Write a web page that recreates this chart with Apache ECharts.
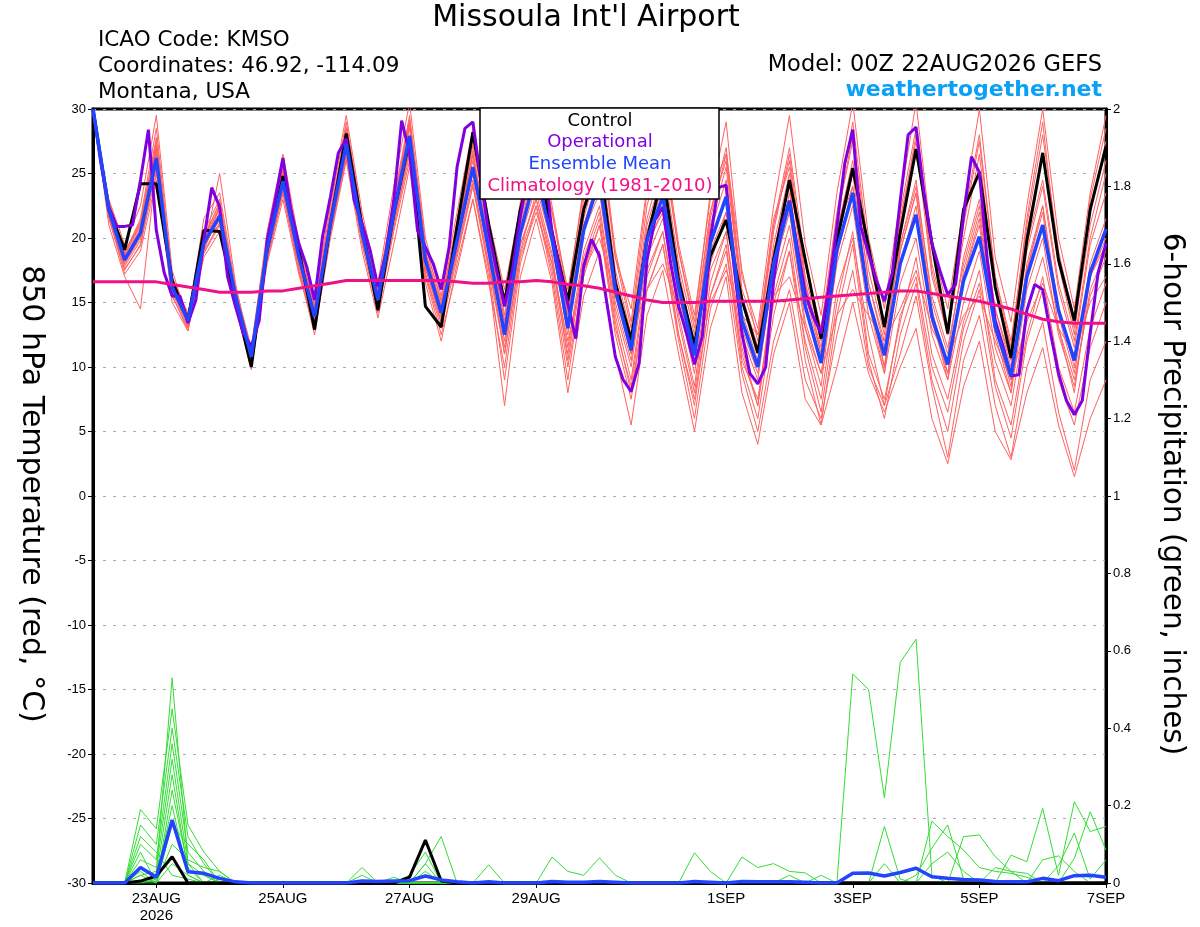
<!DOCTYPE html>
<html>
<head>
<meta charset="utf-8">
<title>Missoula Int'l Airport</title>
<script src="https://cdn.jsdelivr.net/npm/echarts@6/dist/echarts.min.js"></script>
<style>
	body{margin:0;background:#fff;}
	#main{width:1200px;height:927px;}
</style>
</head>
<body>
<div id="main"></div>
<script>
//hours after 00Z 22AUG2026 where the date labels sit
var tickHours = [24, 72, 120, 168, 240, 288, 336, 384];
var tickLabels = ['23AUG\n2026', '25AUG', '27AUG', '29AUG', '1SEP', '3SEP', '5SEP', '7SEP'];

//850 hPa temperature (C), 6-hourly from 00Z 22AUG
var tempControl = [30,22.2,19.1,24.2, 24.2,16.7,13.6,20.6, 20.5,15.2,10.0,19.1, 24.8,19.1,12.9,21.1, 28.1,20.9,14.4,21.9, 27.6,14.7,13.1,20.9, 28.2,21.0,15.0,22.2, 27.0,20.4,15.1,22.2, 26.0,16.5,12.1,19.9, 25.0,16.7,11.7,18.6, 21.4,15.2,11.1,18.3, 24.5,18.3,12.2,19.8, 25.4,19.3,13.1,20.4, 26.9,19.6,12.6,22.2, 25.1,16.2,10.7,19.8, 26.6,18.3,13.6,22.2, 27.1];
var tempMean = [30,22.2,18.3,20.4, 26.2,16.2,13.6,19.6, 21.7,15.5,10.8,19.1, 24.4,18.6,13.9,21.1, 27.3,20.4,15.2,21.9, 27.9,18.3,14.2,19.8, 25.5,19.1,12.5,20.4, 25.0,19.9,13.0,20.6, 24.5,16.0,11.3,19.9, 23.2,16.2,10.9,19.6, 23.2,13.6,10.0,18.0, 22.8,14.7,10.3,19.1, 23.5,15.2,10.9,18.0, 21.8,13.9,10.2,16.7, 20.1,13.1,9.3,17.0, 21.0,14.4,10.5,17.3, 20.7];
var tempClimo = [16.6,16.6,16.6,16.6, 16.6,16.4,16.2,16.0, 15.8,15.8,15.8,15.9, 15.9,16.1,16.3,16.5, 16.7,16.7,16.7,16.7, 16.7,16.7,16.7,16.6, 16.5,16.5,16.6,16.6, 16.7,16.6,16.4,16.3, 16.1,15.8,15.5,15.2, 15.0,15.0,15.0,15.1, 15.1,15.1,15.1,15.1, 15.2,15.3,15.4,15.5, 15.6,15.7,15.8,15.9, 15.9,15.7,15.5,15.3, 15.1,14.8,14.5,14.1, 13.7,13.5,13.4,13.4, 13.4];
//operational run is 3-hourly
var tempOper = [30,25.8,22.4,20.9,20.9,21.0,24.5,28.4, 20.6,17.3,15.5,15.5,13.4,15.2,19.8,23.9, 22.4,17.0,14.7,12.6,11.6,13.6,19.8,22.9, 26.2,22.2,19.6,17.8,15.2,20.1,23.2,26.6, 27.7,22.9,21.1,19.1,16.2,18.8,22.9,29.1, 26.6,20.6,19.3,18.0,16.0,19.3,25.5,28.5, 29.0,24.5,20.4,17.5,14.7,17.5,21.7,25.0, 27.5,26.0,20.4,17.5,14.9,12.2,17.8,19.9, 18.6,14.7,10.8,9.0,8.1,10.3,18.3,21.4, 22.4,18.0,14.7,12.6,10.2,12.4,19.9,23.9, 24.1,17.8,12.6,9.5,8.7,10.0,16.7,20.9, 22.9,19.3,15.7,13.9,12.6,16.2,20.9,25.8, 28.4,20.9,18.8,16.7,15.1,17.3,22.9,28.0, 28.6,23.5,19.6,17.5,15.6,16.4,21.7,26.3, 25.1,18.3,13.6,11.6,9.3,9.4,14.4,16.4, 16.0,12.6,9.5,7.4,6.3,7.4,12.6,17.3, 19.6];
//ensemble members (thin red)
var tempMembers = [
	[30,22.5,18.8,21.5, 28.5,17.0,14.0,20.5, 23.0,16.0,11.0,20.0, 26.0,19.5,14.5,22.5, 29.0,21.5,16.0,23.0, 29.5,19.5,15.0,21.0, 28.0,21.0,14.0,22.0, 27.5,22.0,15.0,23.0, 28.0,18.5,13.0,22.5, 27.0,19.0,13.0,22.0, 27.0,16.0,12.5,21.0, 27.0,18.0,13.0,22.0, 29.0,19.0,13.5,21.0, 28.0,18.0,13.0,21.0, 27.5,17.0,12.0,21.0, 28.0,19.0,13.5,22.0, 27.5],
	[30,21.5,17.5,19.5, 25.0,15.5,13.0,18.5, 20.5,14.8,10.2,18.5, 23.5,17.8,13.2,20.5, 26.5,19.8,14.5,20.8, 26.5,17.2,13.0,18.5, 24.0,17.5,9.0,18.0, 22.5,17.0,9.0,17.5, 21.0,12.5,7.5,16.0, 19.5,12.0,6.0,14.5, 18.0,9.5,5.0,12.0, 16.0,9.0,6.0,12.5, 17.5,10.0,7.0,11.0, 15.5,8.5,3.0,10.5, 14.0,7.0,3.0,10.0, 13.5,6.5,2.0,9.0, 12.0],
	[30,22.0,18.0,20.0, 27.0,16.5,13.2,19.0, 22.5,15.2,10.5,19.5, 25.0,19.0,14.0,21.5, 28.0,20.5,15.5,22.5, 28.5,18.8,14.5,20.2, 26.5,19.8,13.0,21.0, 26.0,20.5,13.5,21.5, 26.0,17.0,12.0,21.0, 25.0,17.5,11.5,21.0, 25.5,15.0,11.0,19.5, 25.0,16.0,11.5,20.5, 26.0,16.5,12.0,19.5, 24.5,15.0,11.0,18.5, 23.0,14.5,10.0,19.0, 24.0,16.0,11.5,19.5, 23.5],
	[30,22.8,19.0,21.0, 26.5,16.0,13.8,20.0, 21.0,15.0,10.0,18.8, 23.8,18.2,13.5,20.8, 26.8,20.0,14.8,21.2, 27.0,17.8,13.5,19.0, 24.5,18.0,11.5,19.5, 23.0,18.5,11.5,19.0, 22.5,14.5,10.0,18.5, 21.5,15.0,9.5,18.0, 22.0,12.5,9.0,17.5, 23.5,15.5,11.0,20.5, 25.5,16.5,11.5,19.5, 24.0,15.5,11.5,18.0, 22.5,14.5,10.5,19.5, 24.5,16.5,12.0,20.0, 25.0],
	[30,21.8,17.8,19.8, 25.5,16.0,13.5,19.2, 22.0,15.8,11.2,19.0, 24.2,18.5,14.2,21.8, 27.5,20.8,15.8,22.0, 28.0,18.5,14.0,20.5, 26.0,19.5,12.8,20.8, 25.5,20.0,14.0,21.0, 24.0,15.5,11.0,19.5, 22.0,14.0,8.5,17.5, 20.5,11.5,7.0,15.0, 19.0,12.0,7.5,16.0, 20.0,12.5,7.0,14.0, 17.0,10.0,6.5,13.0, 16.5,10.5,7.0,14.5, 18.5,13.0,9.0,15.5, 18.5],
	[30,22.3,18.5,20.8, 27.5,16.8,14.2,19.8, 22.2,15.6,11.0,19.6, 25.2,19.2,14.6,21.2, 27.0,21.0,15.4,22.8, 29.0,19.0,14.6,20.6, 27.2,20.5,13.5,21.5, 26.5,21.0,14.5,22.5, 27.0,17.5,12.5,21.5, 26.0,18.0,12.5,22.0, 26.0,15.5,11.5,20.5, 26.5,17.0,12.5,21.5, 28.0,18.5,13.0,21.5, 27.5,17.0,12.5,20.0, 26.5,16.0,11.5,20.5, 26.5,18.5,13.0,21.0, 26.0],
	[30,21.0,17.0,14.5, 25.5,15.0,12.8,19.0, 25.0,16.5,10.8,18.2, 23.5,17.5,12.5,20.0, 26.0,19.0,13.8,19.5, 25.5,16.5,12.0,18.0, 23.0,17.0,7.0,17.0, 21.5,16.5,8.0,15.5, 19.0,11.0,5.5,14.0, 17.5,11.0,5.0,13.0, 17.0,8.0,4.0,11.0, 15.0,7.5,5.5,10.0, 15.0,9.5,6.5,10.0, 13.0,6.0,2.5,8.5, 12.0,5.0,2.8,8.0, 11.5,5.5,1.5,6.0, 9.0],
	[30,23.0,19.5,22.5, 29.5,17.5,13.6,21.5, 23.5,16.2,11.5,20.5, 26.5,19.8,15.0,23.0, 29.5,22.0,16.5,24.0, 30.5,20.0,15.5,22.0, 28.5,21.5,16.0,22.5, 28.5,22.5,15.5,24.0, 29.0,19.0,13.5,23.5, 28.0,19.5,14.0,23.0, 29.0,17.0,13.0,22.5, 29.5,19.5,14.0,23.5, 30.5,20.0,14.5,23.0, 30.5,19.5,14.5,22.5, 30.0,18.5,13.5,22.5, 30.0,20.0,14.5,23.5, 29.5],
	[30,21.6,17.2,19.0, 24.5,15.6,12.8,18.8, 21.0,14.6,9.8,18.0, 23.0,17.2,13.0,20.2, 26.2,19.5,14.2,20.5, 26.0,17.0,12.5,17.5, 23.0,16.5,10.0,18.5, 22.0,18.0,11.0,18.5, 22.0,14.0,9.0,17.5, 20.5,13.5,8.0,16.5, 20.5,10.5,7.5,15.5, 20.0,11.5,6.5,15.0, 20.5,11.0,7.5,13.5, 18.5,11.0,7.5,13.5, 17.5,9.0,5.5,12.5, 17.0,10.0,6.5,13.0, 16.5],
	[30,22.4,18.2,20.6, 26.0,16.4,13.9,19.4, 21.4,15.3,10.6,19.3, 24.6,18.8,14.3,21.4, 27.6,20.6,15.3,21.6, 27.6,18.2,14.0,19.6, 25.0,18.8,12.0,20.0, 24.0,19.5,12.5,20.5, 23.5,15.0,10.5,19.0, 22.5,15.5,10.5,19.0, 22.0,13.0,9.5,17.5, 22.0,13.5,9.5,18.0, 22.5,14.0,9.5,16.5, 20.0,12.5,9.0,15.0, 19.0,11.5,8.0,16.0, 20.0,12.5,8.5,16.0, 19.0],
	[30,22.6,18.6,21.2, 27.8,16.6,13.4,19.9, 22.8,15.9,11.3,19.8, 25.6,18.9,14.4,21.7, 28.3,20.9,15.6,22.3, 28.9,18.7,14.3,20.3, 26.8,19.3,13.2,21.3, 26.8,20.8,14.2,22.0, 26.5,16.5,11.8,20.5, 24.5,16.8,11.0,20.5, 24.5,14.2,10.5,19.0, 24.0,15.0,10.5,19.5, 25.0,15.5,10.0,18.0, 22.5,13.5,9.5,17.0, 21.5,13.0,8.5,17.5, 22.5,14.5,10.0,18.0, 21.5],
	[30,21.9,18.0,20.2, 26.8,15.8,13.1,19.1, 21.8,15.1,10.3,18.6, 24.0,18.0,13.6,20.6, 27.0,20.2,15.0,21.4, 27.3,17.6,13.8,19.3, 25.2,18.5,11.0,19.0, 23.5,18.8,10.5,18.0, 21.5,13.0,8.5,17.0, 20.5,12.5,7.0,15.5, 19.5,10.0,6.0,14.0, 19.0,10.5,5.5,14.0, 19.5,10.5,6.0,12.5, 16.5,9.0,5.0,12.0, 16.0,8.5,4.5,12.0, 16.0,9.0,5.5,11.5, 15.0],
	[30,22.1,18.4,20.6, 26.4,16.3,13.7,19.7, 21.5,15.4,10.9,19.2, 24.5,18.5,14.0,21.0, 27.4,20.3,15.1,21.8, 27.8,18.1,14.1,19.7, 25.4,19.0,12.7,19.5, 23.0,18.0,12.0,17.5, 20.0,15.5,12.5,16.0, 18.0,14.5,11.0,15.0, 17.5,14.0,12.5,15.5, 17.0,13.0,9.5,14.0, 16.0,14.0,12.0,14.5, 17.5,13.0,10.5,14.0, 15.5,12.0,9.0,13.5, 16.5,13.0,11.0,15.0, 17.0],
	[30,22.9,18.9,21.3, 27.2,16.9,14.1,20.2, 22.6,16.1,11.3,20.0, 25.4,19.4,14.8,22.0, 28.6,21.2,16.2,22.7, 29.2,19.3,15.2,21.3, 27.6,21.2,14.8,22.8, 28.0,22.0,16.0,23.5, 28.5,18.5,14.5,24.0, 27.5,19.0,13.5,23.5, 26.5,17.5,12.0,21.5, 25.5,16.5,11.0,20.5, 24.0,15.5,10.0,19.0, 23.5,14.0,9.0,17.0, 21.0,12.5,8.0,17.5, 22.0,13.0,8.0,17.0, 20.0],
	[30,21.7,17.6,19.4, 25.8,15.9,13.3,18.9, 21.2,14.9,10.4,18.4, 23.6,17.6,13.1,20.4, 26.4,19.7,14.6,21.0, 26.8,17.3,13.4,18.8, 24.2,17.8,11.0,18.8, 22.5,17.5,10.0,17.0, 21.0,13.5,8.0,16.0, 19.5,12.5,7.5,15.5, 19.0,11.0,7.0,16.5, 21.0,13.0,8.5,18.5, 24.0,15.0,9.5,19.0, 23.5,14.5,9.5,17.5, 22.0,13.5,9.0,18.0, 22.5,14.0,9.5,17.0, 19.5],
	[30,22.7,18.7,21.0, 27.0,16.7,13.8,19.9, 22.4,15.8,11.2,19.9, 25.3,19.1,14.5,21.9, 28.4,21.1,15.9,22.6, 28.8,18.9,14.8,20.8, 26.4,19.9,13.6,21.6, 26.0,20.0,13.0,21.0, 25.0,16.0,11.0,20.0, 24.0,16.5,11.5,21.5, 26.5,15.5,11.5,21.0, 26.0,16.5,12.0,21.5, 27.5,17.5,12.5,22.0, 28.5,17.5,12.5,21.5, 28.0,17.0,11.5,21.5, 29.0,18.0,12.5,23.0, 28.5]
];

//6-hour precipitation (inches)
var precipControl = [0,0,0,0.005, 0.018,0.068,0,0, 0,0,0,0, 0,0,0,0, 0,0,0,0, 0.015,0.111,0.005,0, 0,0,0,0, 0,0,0,0, 0,0,0,0, 0,0,0,0, 0,0,0,0, 0,0,0,0, 0,0,0,0, 0,0,0,0, 0,0,0,0, 0,0,0,0, 0];
var precipMean = [0,0,0,0.04, 0.015,0.163,0.029,0.025, 0.012,0.003,0,0, 0,0,0,0, 0,0.005,0.004,0.005, 0.006,0.018,0.008,0.003, 0,0.003,0,0, 0,0.004,0.002,0.002, 0.004,0.002,0,0, 0,0,0.004,0.002, 0,0.004,0.003,0.003, 0.003,0.002,0,0, 0.025,0.026,0.018,0.027, 0.038,0.016,0.012,0.009, 0.008,0.004,0.003,0.003, 0.012,0.006,0.019,0.02, 0.015];
var precipMembers = [
	[0,0,0,0.02, 0.03,0.53,0.05,0.02, 0,0,0,0, 0,0,0,0, 0,0,0,0, 0,0,0,0, 0,0,0,0, 0,0,0,0, 0,0,0,0, 0,0,0,0, 0,0,0,0, 0,0,0,0, 0.54,0.50,0.22,0.57, 0.63,0.02,0,0, 0,0,0,0, 0,0,0,0, 0],
	[0,0,0,0.19, 0.14,0.45,0.15,0.08, 0.03,0,0,0, 0,0,0,0, 0,0,0,0, 0,0.03,0,0, 0,0,0,0, 0,0,0,0, 0,0,0,0, 0,0,0,0, 0,0,0,0, 0,0,0,0, 0,0,0,0, 0,0.16,0.12,0.085, 0.04,0.03,0.025,0.015, 0,0,0,0, 0],
	[0,0,0,0.15, 0.10,0.40,0.12,0.05, 0,0,0,0, 0,0,0,0, 0,0,0,0, 0,0.05,0.12,0, 0,0,0,0, 0,0,0,0, 0,0,0,0, 0,0,0,0, 0,0,0,0, 0,0,0,0, 0,0,0,0, 0.02,0.09,0.15,0.01, 0,0,0,0, 0,0,0,0, 0],
	[0,0,0,0.10, 0.06,0.36,0.08,0.03, 0,0,0,0, 0,0,0,0, 0,0,0,0, 0,0,0,0, 0,0.047,0,0, 0,0,0,0, 0,0,0,0, 0,0,0,0, 0,0,0,0, 0,0,0,0, 0,0,0,0, 0,0,0,0.12, 0.124,0.068,0.03,0.025, 0,0,0,0, 0],
	[0,0,0,0.06, 0.04,0.32,0.05,0, 0,0,0,0, 0,0,0,0, 0,0.04,0,0, 0,0,0,0, 0,0,0,0, 0,0,0,0, 0,0,0,0, 0,0,0,0, 0,0,0,0, 0,0,0,0, 0,0,0,0, 0,0,0,0, 0,0,0.072,0.055, 0.193,0.02,0.21,0.133, 0.146],
	[0,0,0,0.04, 0.02,0.28,0.03,0.02, 0,0,0,0, 0,0,0,0, 0,0,0,0, 0.02,0.08,0,0, 0,0,0,0, 0,0,0,0, 0,0,0,0, 0,0,0,0, 0,0,0,0, 0,0,0,0, 0,0,0,0, 0,0,0,0, 0,0,0,0, 0,0,0.064,0.184, 0.085],
	[0,0,0,0.02, 0,0.24,0.04,0, 0,0,0,0, 0,0,0,0, 0,0,0,0, 0,0,0,0, 0,0,0,0, 0,0.067,0.03,0.02, 0.065,0.02,0,0, 0,0,0,0, 0,0,0,0, 0,0,0,0, 0,0,0,0, 0,0,0,0, 0,0,0,0, 0,0.045,0.129,0.01, 0.06],
	[0,0,0,0, 0.01,0.20,0.02,0, 0.02,0,0,0, 0,0,0,0, 0,0,0,0, 0,0,0,0, 0,0,0,0, 0,0,0,0, 0,0,0,0, 0,0,0.078,0.03, 0,0,0,0, 0,0,0,0, 0,0,0.146,0.01, 0,0,0,0, 0,0,0,0, 0,0,0,0, 0],
	[0,0,0,0.08, 0,0.15,0.10,0.06, 0,0,0,0, 0,0,0,0, 0,0,0,0, 0,0,0,0, 0,0,0,0, 0,0,0,0, 0,0,0,0, 0,0,0,0, 0,0.067,0.04,0.05, 0.03,0.026,0,0, 0,0,0,0, 0,0,0,0, 0,0,0,0, 0,0,0,0, 0],
	[0,0,0,0.03, 0,0.10,0.06,0.04, 0.03,0,0,0, 0,0,0,0, 0,0.02,0,0.015, 0,0,0,0, 0,0,0,0, 0,0,0,0, 0,0,0,0, 0,0,0,0, 0,0,0,0, 0.02,0,0.02,0, 0,0,0,0, 0,0,0,0, 0,0,0,0, 0,0,0,0, 0],
	[0,0,0,0, 0,0.05,0.02,0, 0,0,0,0, 0,0,0,0, 0,0,0,0, 0,0.05,0,0, 0,0,0,0, 0,0,0,0, 0,0,0,0, 0,0,0,0, 0,0,0,0, 0,0,0,0, 0,0,0.05,0, 0,0.05,0.08,0.03, 0,0,0,0, 0,0,0,0, 0],
	[0,0,0,0.12, 0.08,0.02,0.01,0, 0,0,0,0, 0,0,0,0, 0,0,0,0, 0,0,0,0, 0,0,0,0, 0,0,0,0, 0,0,0,0, 0,0,0,0, 0,0,0,0, 0,0,0,0, 0,0,0,0, 0,0,0,0, 0,0.04,0.03,0, 0.06,0.07,0.03,0, 0]
];

var bigFont = 'DejaVu Sans';
var tickFont = 'Liberation Sans';

//values -> [hour, value] pairs
function toPairs(values, step){
	var out = [];
	for (var i = 0; i < values.length; i++) {
		out.push([i * step, values[i]]);
	}
	return out;
}

function lineSeries(name, values, step, color, width, axis){
	return {
		name: name,
		type: 'line',
		yAxisIndex: axis,
		data: toPairs(values, step),
		symbol: 'none',
		silent: true,
		lineStyle: {color: color, width: width},
		z: 2
	};
}

function drawChart(){
	var myChart = echarts.init(document.getElementById('main'));
	var series = [];
	for (var i = 0; i < tempMembers.length; i++) {
		series.push(lineSeries('member' + i, tempMembers[i], 6, '#ff6262', 1, 0));
	}
	for (var j = 0; j < precipMembers.length; j++) {
		series.push(lineSeries('precip' + j, precipMembers[j], 6, '#33dd33', 1, 1));
	}
	series.push(lineSeries('Control precip', precipControl, 6, '#000', 3, 1));
	series.push(lineSeries('Mean precip', precipMean, 6, '#2244ff', 3.5, 1));
	series.push(lineSeries('Control', tempControl, 6, '#000', 3, 0));
	series.push(lineSeries('Operational', tempOper, 3, '#8000e0', 3, 0));
	series.push(lineSeries('Ensemble Mean', tempMean, 6, '#2244ff', 3.5, 0));
	series.push(lineSeries('Climatology (1981-2010)', tempClimo, 6, '#ee1188', 3, 0));

	option = {
		animation: false,
		backgroundColor: '#fff',
		grid: {
			left: 93, right: 94, top: 109, bottom: 44,
			show: true, borderColor: '#000', borderWidth: 3
		},
		xAxis: {
			type: 'value',
			min: 0,
			max: 384,
			axisLine: {onZero: false, lineStyle: {color: '#000', width: 3}},
			axisTick: {customValues: tickHours, length: 5, lineStyle: {color: '#000', width: 1}},
			axisLabel: {
				customValues: tickHours,
				formatter: function(v){ return tickLabels[tickHours.indexOf(v)]; },
				color: '#000', fontFamily: tickFont, fontSize: 15, lineHeight: 17, margin: 7
			},
			splitLine: {show: false}
		},
		yAxis: [
			{
				type: 'value',
				position: 'left',
				min: -30,
				max: 30,
				interval: 5,
				axisLine: {show: true, onZero: false, lineStyle: {color: '#000', width: 3}},
				axisTick: {show: true, length: 5, lineStyle: {color: '#000', width: 1}},
				axisLabel: {color: '#000', fontFamily: tickFont, fontSize: 13, margin: 7},
				splitLine: {show: true, lineStyle: {color: '#aaa', width: 1, type: [3, 7]}}
			},
			{
				type: 'value',
				position: 'right',
				min: 0,
				max: 2,
				interval: 0.2,
				axisLine: {show: true, onZero: false, lineStyle: {color: '#000', width: 3}},
				axisTick: {show: true, length: 5, lineStyle: {color: '#000', width: 1}},
				axisLabel: {
					color: '#000', fontFamily: tickFont, fontSize: 13, margin: 7,
					formatter: function(v){ return String(Math.round(v * 10) / 10); }
				},
				splitLine: {show: false}
			}
		],
		graphic: [
			{type: 'text', x: 586, y: 18, style: {text: "Missoula Int'l Airport", font: '30px "' + bigFont + '"', fill: '#000', textAlign: 'center', textVerticalAlign: 'middle'}},
			{type: 'text', x: 98, y: 40, style: {text: 'ICAO Code: KMSO', font: '21.5px "' + bigFont + '"', fill: '#000', textVerticalAlign: 'middle'}},
			{type: 'text', x: 98, y: 66, style: {text: 'Coordinates: 46.92, -114.09', font: '21.5px "' + bigFont + '"', fill: '#000', textVerticalAlign: 'middle'}},
			{type: 'text', x: 98, y: 92, style: {text: 'Montana, USA', font: '21.5px "' + bigFont + '"', fill: '#000', textVerticalAlign: 'middle'}},
			{type: 'text', x: 1102, y: 65, style: {text: 'Model: 00Z 22AUG2026 GEFS', font: '22.5px "' + bigFont + '"', fill: '#000', textAlign: 'right', textVerticalAlign: 'middle'}},
			{type: 'text', x: 1102, y: 90, style: {text: 'weathertogether.net', font: 'bold 22px "' + bigFont + '"', fill: '#0aa0f5', textAlign: 'right', textVerticalAlign: 'middle'}},
			{type: 'text', x: 31, y: 494, rotation: -Math.PI / 2, style: {text: '850 hPa Temperature (red, \u00b0C)', font: '30px "' + bigFont + '"', fill: '#000', textAlign: 'center', textVerticalAlign: 'middle'}},
			{type: 'text', x: 1172, y: 494, rotation: -Math.PI / 2, style: {text: '6-hour Precipitation (green, inches)', font: '29.5px "' + bigFont + '"', fill: '#000', textAlign: 'center', textVerticalAlign: 'middle'}},
			//legend box
			{type: 'rect', z: 100, shape: {x: 480, y: 108, width: 239, height: 91}, style: {fill: '#fff', stroke: '#000', lineWidth: 1.5}},
			{type: 'text', z: 101, x: 600, y: 121, style: {text: 'Control', font: '18px "' + bigFont + '"', fill: '#000', textAlign: 'center', textVerticalAlign: 'middle'}},
			{type: 'text', z: 101, x: 600, y: 142, style: {text: 'Operational', font: '18px "' + bigFont + '"', fill: '#8000e0', textAlign: 'center', textVerticalAlign: 'middle'}},
			{type: 'text', z: 101, x: 600, y: 164, style: {text: 'Ensemble Mean', font: '18px "' + bigFont + '"', fill: '#2244ff', textAlign: 'center', textVerticalAlign: 'middle'}},
			{type: 'text', z: 101, x: 600, y: 186, style: {text: 'Climatology (1981-2010)', font: '18px "' + bigFont + '"', fill: '#ee1188', textAlign: 'center', textVerticalAlign: 'middle'}}
		],
		series: series
	};
	myChart.setOption(option);
}

drawChart();
</script>
</body>
</html>
